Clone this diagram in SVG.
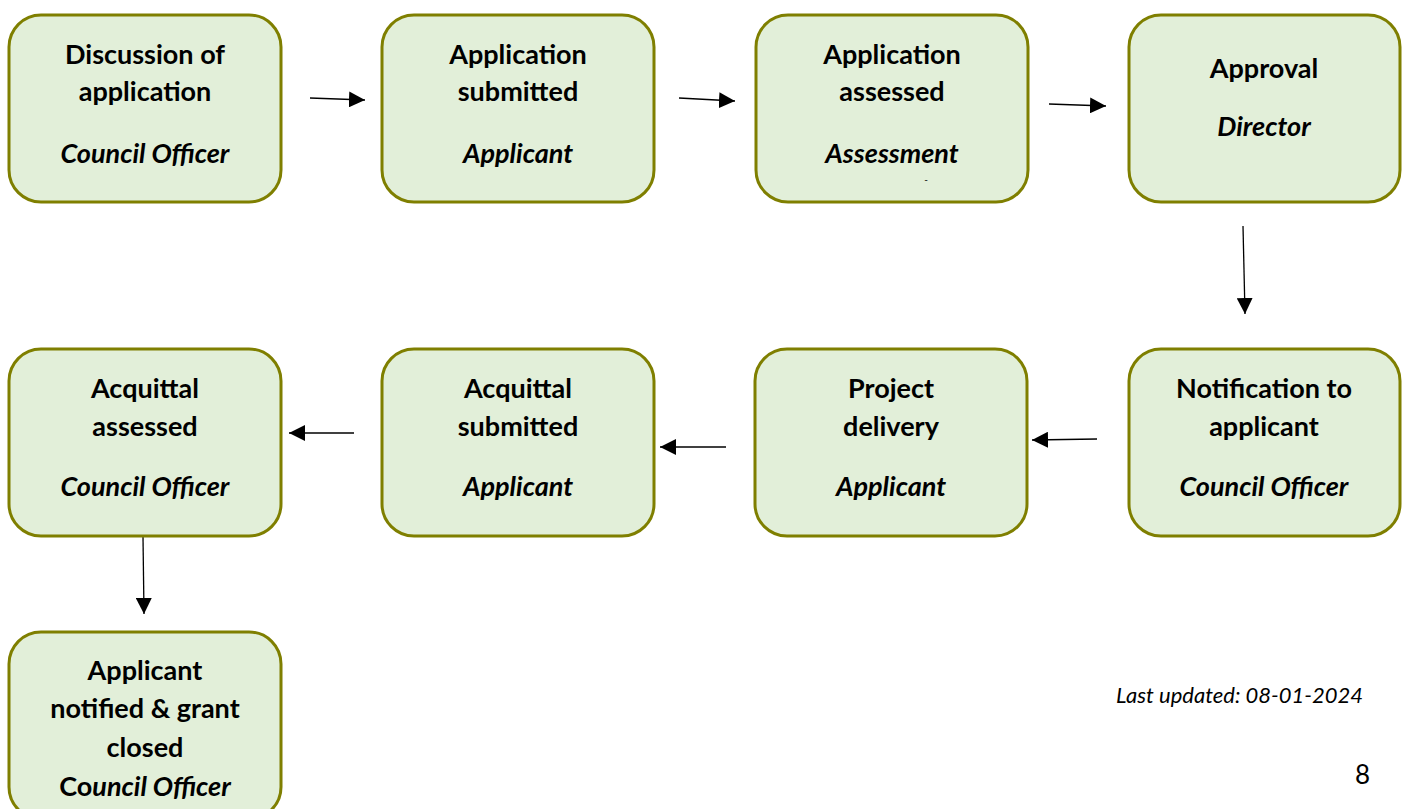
<svg xmlns="http://www.w3.org/2000/svg" width="1407" height="809" viewBox="0 0 1407 809">
<defs>
<style>
.box{fill:#e2efd9;stroke:#7f7f00;stroke-width:3}
.t{font-family:Lato,"Open Sans",sans-serif;font-size:27px;font-weight:bold;fill:#000;text-anchor:middle}
.i{font-style:italic}
.c{stroke:#000;stroke-width:1.3;fill:none;marker-end:url(#ah)}
.f{font-family:Lato,"Open Sans",sans-serif;fill:#000}
</style>
<marker id="ah" viewBox="0 0 16 16" refX="16" refY="8" markerWidth="16" markerHeight="16" markerUnits="userSpaceOnUse" orient="auto">
<path d="M0,0 L16,8 L0,16 Z" fill="#000"/>
</marker>
</defs>
<rect width="1407" height="809" fill="#fff"/>
<g id="connectors">
<line class="c" x1="310" y1="98" x2="365" y2="100"/>
<line class="c" x1="679" y1="98" x2="735" y2="101"/>
<line class="c" x1="1049" y1="104" x2="1106" y2="106"/>
<line class="c" x1="1243" y1="226" x2="1245" y2="314"/>
<line class="c" x1="1097" y1="439" x2="1032" y2="440"/>
<line class="c" x1="726" y1="447" x2="660" y2="447"/>
<line class="c" x1="354" y1="433" x2="289" y2="433"/>
<line class="c" x1="143" y1="537" x2="144" y2="614"/>
</g>
<g id="n1"><rect class="box" x="9" y="15" width="272" height="187" rx="32"/>
<text class="t" x="145" y="64">Discussion of</text><text class="t" x="145" y="101">application</text><text class="t i" x="145" y="163">Council Officer</text></g>
<g id="n2"><rect class="box" x="382" y="15" width="272" height="187" rx="32"/>
<text class="t" x="518" y="64">Application</text><text class="t" x="518" y="101">submitted</text><text class="t i" x="518" y="163">Applicant</text></g>
<g id="n3"><rect class="box" x="756" y="15" width="272" height="187" rx="32"/>
<text class="t" x="892" y="64">Application</text><text class="t" x="892" y="101">assessed</text><text class="t i" x="892" y="163">Assessment</text>
<text class="f" x="926" y="183" font-size="10" text-anchor="middle">-</text></g>
<g id="n4"><rect class="box" x="1129" y="15" width="271" height="187" rx="32"/>
<text class="t" x="1264" y="78">Approval</text><text class="t i" x="1264" y="136">Director</text></g>
<g id="n5"><rect class="box" x="1129" y="349" width="271" height="187" rx="32"/>
<text class="t" x="1264" y="398">Notification to</text><text class="t" x="1264" y="436">applicant</text><text class="t i" x="1264" y="496">Council Officer</text></g>
<g id="n6"><rect class="box" x="755" y="349" width="272" height="187" rx="32"/>
<text class="t" x="891" y="398">Project</text><text class="t" x="891" y="436">delivery</text><text class="t i" x="891" y="496">Applicant</text></g>
<g id="n7"><rect class="box" x="382" y="349" width="272" height="187" rx="32"/>
<text class="t" x="518" y="398">Acquittal</text><text class="t" x="518" y="436">submitted</text><text class="t i" x="518" y="496">Applicant</text></g>
<g id="n8"><rect class="box" x="9" y="349" width="272" height="187" rx="32"/>
<text class="t" x="145" y="398">Acquittal</text><text class="t" x="145" y="436">assessed</text><text class="t i" x="145" y="496">Council Officer</text></g>
<g id="n9"><rect class="box" x="9" y="632" width="272" height="187" rx="32"/>
<text class="t" x="145" y="680">Applicant</text><text class="t" x="145" y="718">notified &amp; grant</text><text class="t" x="145" y="757">closed</text><text class="t" x="145" y="796">Co<tspan class="i">uncil Officer</tspan></text></g>
<text class="f" x="1116" y="703" font-size="22" font-style="italic">Last updated: 08-01-2024</text>
<text class="f" x="1355" y="784" font-size="26">8</text>
</svg>
